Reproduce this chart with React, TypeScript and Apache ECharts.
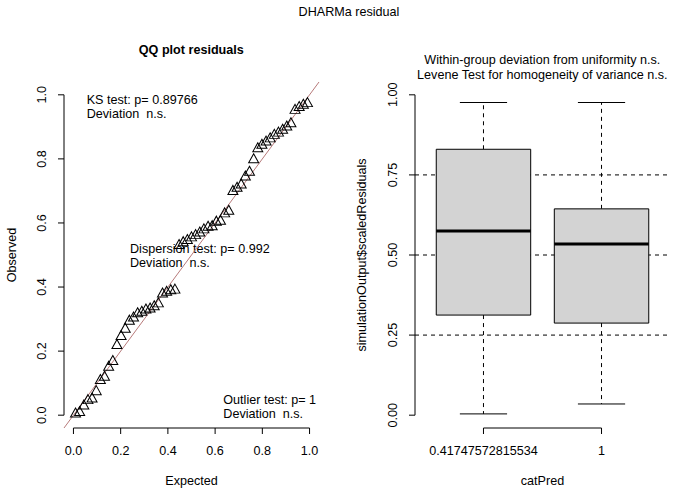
import React, { useEffect, useRef } from 'react';
import * as echarts from 'echarts';

// QQ plot: expected uniform quantiles and observed (sorted) scaled residuals
const expectedQ = [
  0.0088, 0.0263, 0.0439, 0.0614, 0.0789, 0.0965, 0.114, 0.1316, 0.1491, 0.1667,
  0.1842, 0.2018, 0.2193, 0.2368, 0.2544, 0.2719, 0.2895, 0.307, 0.3246, 0.3421,
  0.3596, 0.3772, 0.3947, 0.4123, 0.4298, 0.4474, 0.4649, 0.4825, 0.5, 0.5175,
  0.5351, 0.5526, 0.5702, 0.5877, 0.6053, 0.6228, 0.6404, 0.6579, 0.6754, 0.693,
  0.7105, 0.7281, 0.7456, 0.7632, 0.7807, 0.7982, 0.8158, 0.8333, 0.8509, 0.8684,
  0.886, 0.9035, 0.9211, 0.9386, 0.9561, 0.9737, 0.9912,
];
const observedQ = [
  0.005, 0.01, 0.03, 0.047, 0.052, 0.075, 0.11, 0.12, 0.151, 0.169,
  0.219, 0.247, 0.27, 0.295, 0.305, 0.318, 0.323, 0.33, 0.333, 0.34,
  0.349, 0.38, 0.385, 0.39, 0.392, 0.531, 0.54, 0.547, 0.555, 0.562,
  0.57, 0.58, 0.588, 0.59, 0.604, 0.607, 0.63, 0.638, 0.7, 0.71,
  0.72, 0.745, 0.76, 0.799, 0.833, 0.844, 0.854, 0.864, 0.875, 0.882,
  0.891, 0.901, 0.911, 0.953, 0.962, 0.969, 0.974,
];
const qqTicks = [0, 0.2, 0.4, 0.6, 0.8, 1.0];

// Boxplot by category
const boxCategories = ['0.41747572815534', '1'];
const boxPositions = [1, 2];
const boxLow = [0.004, 0.035];
const boxQ1 = [0.3125, 0.2875];
const boxMedian = [0.575, 0.534];
const boxQ3 = [0.83, 0.644];
const boxHigh = [0.976, 0.976];
const boxTicks = [0, 0.25, 0.5, 0.75, 1];
const refLines = [0.25, 0.5, 0.75];

const FONT = '"Liberation Sans", Arial, Helvetica, sans-serif';
const FS = 12.6;

export default function App() {
  const ref = useRef<HTMLDivElement>(null);

  useEffect(() => {
    if (!ref.current) return;
    const chart = echarts.init(ref.current, null, { renderer: 'svg' });

    const txt = { color: '#000', fontSize: FS, fontFamily: FONT };

    // segment between two data points, through the axes' scales
    const segments = (gi: number, segs: number[][], style: any, z: number) => ({
      type: 'custom',
      xAxisIndex: gi,
      yAxisIndex: gi,
      data: segs,
      clip: false,
      silent: true,
      z,
      renderItem: (_p: any, api: any) => {
        const a = api.coord([api.value(0), api.value(1)]);
        const b = api.coord([api.value(2), api.value(3)]);
        return {
          type: 'line',
          shape: { x1: a[0], y1: a[1], x2: b[0], y2: b[1] },
          style: { fill: null, ...style },
        };
      },
    });
    // outward tick marks at data points (R style)
    const ticks = (gi: number, pts: number[][], dx: number, dy: number) => ({
      type: 'custom',
      xAxisIndex: gi,
      yAxisIndex: gi,
      data: pts,
      clip: false,
      silent: true,
      z: 5,
      renderItem: (_p: any, api: any) => {
        const a = api.coord([api.value(0), api.value(1)]);
        return {
          type: 'line',
          shape: { x1: a[0], y1: a[1], x2: a[0] + dx, y2: a[1] + dy },
          style: { stroke: '#000', lineWidth: 1, fill: null },
        };
      },
    });

    const xQ = (gi: number, tv: number[], fmt: (v: number) => string, min: number, max: number, name: string) => ({
      type: 'value', gridIndex: gi, min, max,
      axisLine: { show: false, onZero: false },
      axisTick: { show: false },
      axisLabel: { customValues: tv, formatter: fmt, margin: 16, ...txt },
      splitLine: { show: false },
      name, nameLocation: 'middle', nameGap: 46, nameTextStyle: txt,
    });
    const yQ = (gi: number, tv: number[], fmt: (v: number) => string, name: string, gap: number) => ({
      type: 'value', gridIndex: gi, min: -0.04, max: 1.04,
      axisLine: { show: false, onZero: false },
      axisTick: { show: false },
      axisLabel: { customValues: tv, rotate: 90, formatter: fmt, margin: 16, ...txt },
      splitLine: { show: false },
      name, nameLocation: 'middle', nameRotate: 90, nameGap: gap, nameTextStyle: txt,
    });

    const axisStyle = { stroke: '#000', lineWidth: 1 };

    const option: any = {
      animation: false,
      backgroundColor: '#fff',
      grid: [
        { left: 64, top: 82, width: 255, height: 346 },
        { left: 415, top: 82, width: 255, height: 346 },
      ],
      xAxis: [
        xQ(0, qqTicks, (v) => v.toFixed(1), -0.04, 1.04, 'Expected'),
        xQ(1, boxPositions, (v) => boxCategories[boxPositions.indexOf(v)] ?? '', 0.42, 2.58, 'catPred'),
      ],
      yAxis: [
        yQ(0, qqTicks, (v) => v.toFixed(1), 'Observed', 46),
        yQ(1, boxTicks, (v) => v.toFixed(2), 'simulationOutput$scaledResiduals', 47),
      ],
      series: [
        // R-style axis lines spanning first to last tick
        segments(0, [
          [qqTicks[0], -0.04, qqTicks[qqTicks.length - 1], -0.04],
          [-0.04, qqTicks[0], -0.04, qqTicks[qqTicks.length - 1]],
        ], axisStyle, 5),
        segments(1, [
          [boxPositions[0], -0.04, boxPositions[boxPositions.length - 1], -0.04],
          [0.42, boxTicks[0], 0.42, boxTicks[boxTicks.length - 1]],
        ], axisStyle, 5),
        ticks(0, qqTicks.map((v) => [v, -0.04]), 0, 6),
        ticks(0, qqTicks.map((v) => [-0.04, v]), -6, 0),
        ticks(1, boxPositions.map((v) => [v, -0.04]), 0, 6),
        ticks(1, boxTicks.map((v) => [0.42, v]), -6, 0),
        // 1:1 line
        segments(0, [[-0.04, -0.04, 1.04, 1.04]], { stroke: '#b77a7a', lineWidth: 1 }, 2),
        // QQ points
        {
          type: 'scatter', xAxisIndex: 0, yAxisIndex: 0,
          data: expectedQ.map((x, i) => [x, observedQ[i]]),
          symbol: 'triangle', symbolSize: [10, 9], symbolOffset: [0, -1],
          z: 3,
          itemStyle: { color: 'rgba(0,0,0,0)', borderColor: '#000', borderWidth: 1, opacity: 1 },
        },
        // dashed reference lines
        segments(1, refLines.map((h) => [0.42, h, 2.58, h]), { stroke: '#000', lineWidth: 1, lineDash: [4, 4] }, 1),
        // boxplots
        {
          type: 'custom', xAxisIndex: 1, yAxisIndex: 1, z: 3,
          data: boxPositions.map((p, i) => [p, boxLow[i], boxQ1[i], boxMedian[i], boxQ3[i], boxHigh[i]]),
          renderItem: (_params: any, api: any) => {
            const x = api.value(0);
            const lo = api.value(1), q1 = api.value(2), md = api.value(3), q3 = api.value(4), hi = api.value(5);
            const c = (a: number, b: number) => api.coord([a, b]);
            const tl = c(x - 0.4, q3);
            const br = c(x + 0.4, q1);
            const black = { stroke: '#000', lineWidth: 1, fill: null };
            const dashed = { stroke: '#000', lineWidth: 1, lineDash: [4, 4], fill: null };
            const seg = (a: number[], b: number[], style: any) => ({
              type: 'line', shape: { x1: a[0], y1: a[1], x2: b[0], y2: b[1] }, style,
            });
            return {
              type: 'group',
              children: [
                seg(c(x, q3), c(x, hi), dashed),
                seg(c(x, q1), c(x, lo), dashed),
                seg(c(x - 0.2, hi), c(x + 0.2, hi), black),
                seg(c(x - 0.2, lo), c(x + 0.2, lo), black),
                {
                  type: 'rect',
                  shape: { x: tl[0], y: tl[1], width: br[0] - tl[0], height: br[1] - tl[1] },
                  style: { fill: '#d3d3d3', stroke: '#000', lineWidth: 1 },
                },
                seg(c(x - 0.4, md), c(x + 0.4, md), { stroke: '#000', lineWidth: 3, fill: null }),
              ],
            };
          },
        },
      ],
      graphic: [
        { type: 'text', x: 349, y: 12, style: { text: 'DHARMa residual', fontSize: FS, fontFamily: FONT, fill: '#000', align: 'center', verticalAlign: 'middle' } },
        { type: 'text', x: 191.3, y: 50, style: { text: 'QQ plot residuals', fontSize: FS, fontWeight: 'bold', fontFamily: FONT, fill: '#000', align: 'center', verticalAlign: 'middle' } },
        { type: 'text', x: 542.3, y: 60, style: { text: 'Within-group deviation from uniformity n.s.', fontSize: FS, fontFamily: FONT, fill: '#000', align: 'center', verticalAlign: 'middle' } },
        { type: 'text', x: 542.3, y: 75, style: { text: 'Levene Test for homogeneity of variance n.s.', fontSize: FS, fontFamily: FONT, fill: '#000', align: 'center', verticalAlign: 'middle' } },
        { type: 'text', x: 86.7, y: 99.5, style: { text: 'KS test: p= 0.89766', fontSize: FS, fontFamily: FONT, fill: '#000', align: 'left', verticalAlign: 'middle' } },
        { type: 'text', x: 86.7, y: 114, style: { text: 'Deviation  n.s.', fontSize: FS, fontFamily: FONT, fill: '#000', align: 'left', verticalAlign: 'middle' } },
        { type: 'text', x: 130, y: 248.5, style: { text: 'Dispersion test: p= 0.992', fontSize: FS, fontFamily: FONT, fill: '#000', align: 'left', verticalAlign: 'middle' } },
        { type: 'text', x: 130, y: 263, style: { text: 'Deviation  n.s.', fontSize: FS, fontFamily: FONT, fill: '#000', align: 'left', verticalAlign: 'middle' } },
        { type: 'text', x: 223.3, y: 399.5, style: { text: 'Outlier test: p= 1', fontSize: FS, fontFamily: FONT, fill: '#000', align: 'left', verticalAlign: 'middle' } },
        { type: 'text', x: 223.3, y: 414, style: { text: 'Deviation  n.s.', fontSize: FS, fontFamily: FONT, fill: '#000', align: 'left', verticalAlign: 'middle' } },
      ],
    };

    chart.setOption(option);
    return () => chart.dispose();
  }, []);

  return (
    <div
      ref={ref}
      style={{ position: 'absolute', left: 0, top: 0, width: 690, height: 492, background: '#fff' }}
    />
  );
}
